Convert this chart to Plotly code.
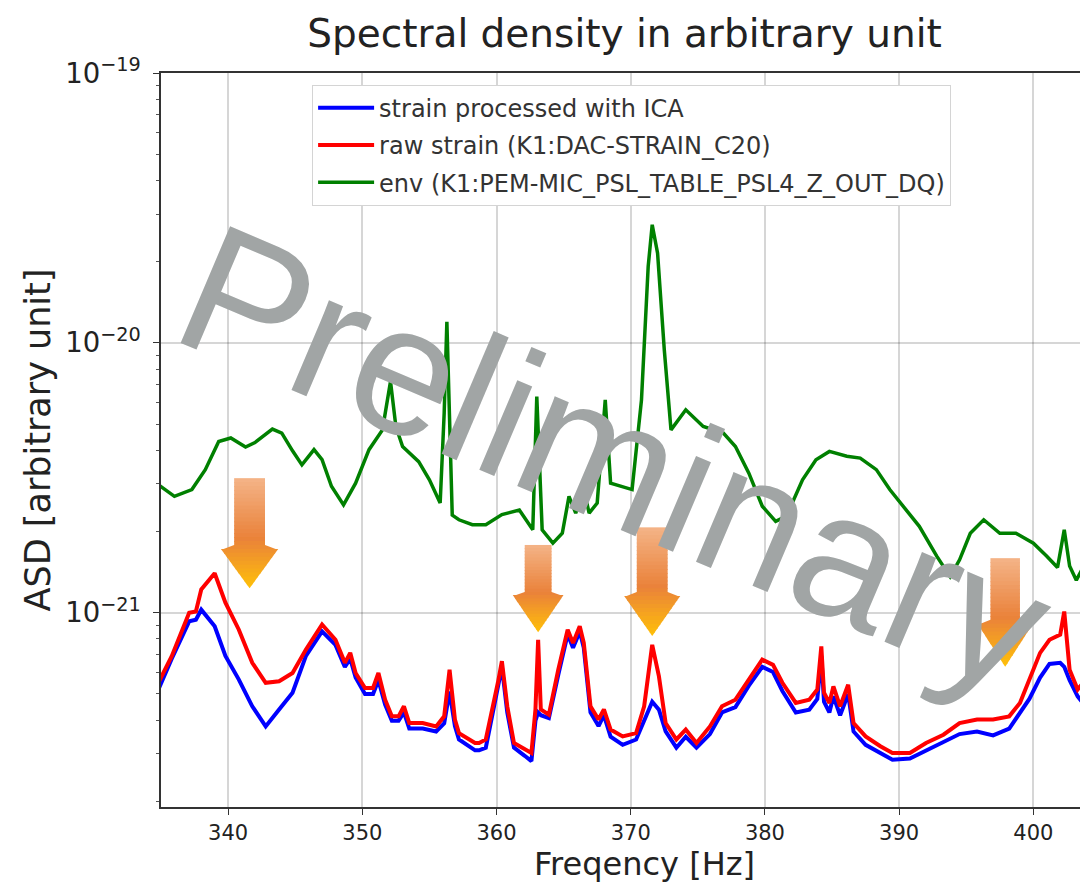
import plotly.graph_objects as go

UNIT = 1e-21  # values below are in units of 1e-21

# ---- environment (microphone) channel ----
freq_env = [334.8, 336.0, 337.3, 338.3, 339.3, 340.2, 341.3, 342.0, 343.3, 344.0,
            344.8, 345.5, 346.4, 347.0, 347.7, 348.6, 349.5, 350.5, 351.5, 352.1,
            352.5, 353.0, 354.2, 355.0, 355.8, 356.1, 356.3, 356.5, 356.7, 357.2,
            358.2, 359.2, 360.4, 361.7, 362.7, 363.0, 363.4, 364.2, 364.9, 365.4,
            365.9, 366.5, 366.9, 367.5, 368.1, 368.5, 369.4, 370.1, 370.8, 371.3,
            371.6, 372.0, 372.5, 373.0, 374.1, 375.4, 376.9, 377.8, 378.8, 379.8,
            380.8, 381.6, 382.8, 383.8, 384.8, 386.1, 387.1, 388.3, 389.3, 390.3,
            391.5, 392.8, 393.8, 394.5, 395.3, 396.3, 397.5, 398.7, 400.0, 401.0,
            401.8, 402.3, 402.7, 403.2, 404.0]
asd_env = [2.98, 2.70, 2.86, 3.39, 4.31, 4.44, 4.11, 4.27, 4.79, 4.63,
           3.98, 3.53, 4.02, 3.69, 2.94, 2.51, 3.02, 4.02, 4.76, 7.19,
           4.90, 4.13, 3.63, 3.11, 2.55, 5.5, 11.97, 5.5, 2.3, 2.21,
           2.12, 2.12, 2.31, 2.40, 2.03, 6.32, 2.03, 1.81, 1.97, 2.70,
           2.34, 2.86, 2.34, 2.55, 6.15, 3.02, 2.94, 2.86, 6.15, 19.2,
           27.4, 21.5, 9.42, 4.76, 5.65, 4.90, 4.63, 4.13, 3.29, 2.48,
           2.18, 2.28, 3.11, 3.69, 3.96, 3.80, 3.74, 3.39, 2.86, 2.48,
           2.09, 1.62, 1.36, 1.57, 1.97, 2.21, 1.97, 1.97, 1.81, 1.62,
           1.47, 2.03, 1.49, 1.32, 1.57]

# ---- strain channels ----
freq_strain = [334.8, 335.8, 337.1, 337.6, 338.0, 339.0, 339.8, 340.8, 341.8, 342.8,
               343.8, 344.8, 345.8, 347.0, 348.0, 348.7, 349.1, 349.5, 350.2, 350.8,
               351.2, 351.7, 352.2, 352.7, 353.1, 353.5, 354.5, 355.5, 356.1, 356.5,
               356.9, 357.2, 358.4, 358.7, 359.2, 359.7, 360.1, 360.4, 360.8, 361.3,
               362.1, 362.6, 362.9, 363.1, 363.3, 363.9, 364.6, 365.3, 365.7, 366.2,
               366.5, 367.0, 367.6, 368.0, 368.5, 369.4, 370.4, 371.0, 371.6, 372.1,
               372.6, 373.4, 374.1, 374.9, 375.9, 376.8, 377.8, 378.8, 379.8, 380.6,
               381.3, 382.3, 383.3, 383.9, 384.2, 384.4, 384.8, 385.1, 385.6, 386.2,
               386.6, 387.5, 388.6, 389.5, 390.8, 392.0, 393.3, 394.5, 395.8, 397.0,
               398.2, 399.0, 399.7, 400.5, 401.2, 402.0, 402.3, 402.7, 403.3, 403.9]
asd_raw = [0.55, 0.69, 1.00, 1.01, 1.22, 1.40, 1.09, 0.865, 0.652, 0.55,
           0.557, 0.598, 0.73, 0.904, 0.794, 0.652, 0.71, 0.598, 0.526, 0.526,
           0.598, 0.476, 0.413, 0.413, 0.45, 0.39, 0.39, 0.379, 0.413, 0.615,
           0.402, 0.358, 0.329, 0.329, 0.339, 0.438, 0.55, 0.661, 0.45, 0.329,
           0.311, 0.302, 0.438, 0.794, 0.438, 0.419, 0.615, 0.865, 0.773, 0.891,
           0.773, 0.45, 0.402, 0.438, 0.369, 0.348, 0.358, 0.45, 0.76, 0.581,
           0.39, 0.339, 0.369, 0.329, 0.379, 0.45, 0.476, 0.565, 0.67, 0.641,
           0.55, 0.463, 0.476, 0.519, 0.75, 0.505, 0.463, 0.533, 0.45, 0.541,
           0.39, 0.348, 0.32, 0.302, 0.302, 0.329, 0.353, 0.39, 0.402, 0.402,
           0.413, 0.463, 0.565, 0.71, 0.794, 0.83, 1.01, 0.615, 0.519, 0.565]
asd_ica = [0.519, 0.676, 0.929, 0.942, 1.026, 0.891, 0.692, 0.565, 0.45, 0.379,
           0.438, 0.505, 0.692, 0.853, 0.76, 0.63, 0.676, 0.575, 0.50, 0.50,
           0.562, 0.457, 0.398, 0.398, 0.427, 0.372, 0.372, 0.363, 0.389, 0.51,
           0.38, 0.339, 0.309, 0.309, 0.316, 0.417, 0.525, 0.63, 0.427, 0.316,
           0.295, 0.282, 0.398, 0.427, 0.417, 0.407, 0.589, 0.832, 0.741, 0.851,
           0.741, 0.427, 0.38, 0.417, 0.347, 0.324, 0.339, 0.398, 0.468, 0.437,
           0.363, 0.316, 0.347, 0.316, 0.355, 0.427, 0.447, 0.537, 0.63, 0.603,
           0.513, 0.427, 0.437, 0.479, 0.692, 0.468, 0.427, 0.49, 0.417, 0.50,
           0.363, 0.324, 0.302, 0.285, 0.288, 0.309, 0.331, 0.355, 0.363, 0.351,
           0.372, 0.427, 0.479, 0.575, 0.646, 0.652, 0.63, 0.562, 0.49, 0.45]

series_names = ["strain processed with ICA",
                "raw strain (K1:DAC-STRAIN_C20)",
                "env (K1:PEM-MIC_PSL_TABLE_PSL4_Z_OUT_DQ)"]

x_ticks = [340, 350, 360, 370, 380, 390, 400]

# ---- decoration: gradient arrows (x centre in Hz, others in paper units / Hz) ----
arrows = [
    dict(x=341.6, shaft_hw=1.15, head_hw=2.35, top=0.448, neck=0.357, tip=0.298),
    dict(x=363.1, shaft_hw=1.00, head_hw=2.05, top=0.357, neck=0.293, tip=0.238),
    dict(x=371.6, shaft_hw=1.15, head_hw=2.30, top=0.381, neck=0.293, tip=0.233),
    dict(x=397.9, shaft_hw=1.10, head_hw=2.25, top=0.339, neck=0.255, tip=0.191),
]
grad_stops = [(0.0, (244, 180, 136)), (0.55, (234, 130, 58)), (1.0, (255, 192, 8))]


def grad_color(t):
    for (t0, c0), (t1, c1) in zip(grad_stops[:-1], grad_stops[1:]):
        if t <= t1:
            f = (t - t0) / (t1 - t0) if t1 > t0 else 0
            return "rgb(%d,%d,%d)" % tuple(round(a + (b - a) * f) for a, b in zip(c0, c1))
    return "rgb(%d,%d,%d)" % grad_stops[-1][1]


def arrow_shapes(a, n=28):
    shapes = []
    L = a["top"] - a["tip"]
    eps = 0.0012

    def hw(y):
        if y >= a["neck"]:
            return a["shaft_hw"]
        return a["head_hw"] * (y - a["tip"]) / (a["neck"] - a["tip"])

    ns = max(2, round(n * (a["top"] - a["neck"]) / L))
    for i in range(ns):
        y0 = a["top"] - (a["top"] - a["neck"]) * i / ns
        y1 = a["top"] - (a["top"] - a["neck"]) * (i + 1) / ns - eps
        t = (a["top"] - (y0 + y1) / 2) / L
        x0, x1 = a["x"] - a["shaft_hw"], a["x"] + a["shaft_hw"]
        path = f"M {x0},{y0} L {x1},{y0} L {x1},{y1} L {x0},{y1} Z"
        shapes.append(dict(type="path", path=path, xref="x", yref="paper",
                           fillcolor=grad_color(t), line=dict(width=0), layer="above"))
    nh = max(2, n - ns)
    for i in range(nh):
        y0 = a["neck"] - (a["neck"] - a["tip"]) * i / nh
        y1 = a["neck"] - (a["neck"] - a["tip"]) * (i + 1) / nh
        y1e = max(a["tip"], y1 - eps)
        w0, w1 = hw(y0), hw(y1e)
        t = (a["top"] - (y0 + y1) / 2) / L
        path = (f"M {a['x'] - w0},{y0} L {a['x'] + w0},{y0} "
                f"L {a['x'] + w1},{y1e} L {a['x'] - w1},{y1e} Z")
        shapes.append(dict(type="path", path=path, xref="x", yref="paper",
                           fillcolor=grad_color(t), line=dict(width=0), layer="above"))
    return shapes


fig = go.Figure()
fig.add_trace(go.Scatter(x=freq_strain, y=[v * UNIT for v in asd_ica], mode="lines",
                         name=series_names[0], line=dict(color="#0000ff", width=4),
                         legendgroup="a"))
fig.add_trace(go.Scatter(x=freq_strain, y=[v * UNIT for v in asd_raw], mode="lines",
                         name=series_names[1], line=dict(color="#ff0000", width=4),
                         legendgroup="b"))
fig.add_trace(go.Scatter(x=freq_env, y=[v * UNIT for v in asd_env], mode="lines",
                         name=series_names[2], line=dict(color="#008000", width=3.5),
                         legendgroup="c"))

shapes = []
for a in arrows:
    shapes += arrow_shapes(a)

font_main = "DejaVu Sans, Arial, sans-serif"

# page body adds an 8px offset, so the figure is 8px smaller than the window
fig.update_layout(
    width=1080, height=877,
    margin=dict(l=153, r=0, t=65, b=78, autoexpand=False),
    paper_bgcolor="white", plot_bgcolor="white",
    font=dict(family=font_main, color="#222222"),
    title=dict(text="Spectral density in arbitrary unit", x=0.5, xref="paper",
               xanchor="center", y=0.971, yref="container", yanchor="middle",
               font=dict(size=39, color="#222222"), automargin=False),
    shapes=shapes,
    showlegend=True,
    legend=dict(x=0.163, y=0.984, xanchor="left", yanchor="top",
                bgcolor="white", bordercolor="#d4d4d4", borderwidth=1,
                font=dict(size=24, color="#333333"), tracegroupgap=3,
                itemwidth=56),
    annotations=[
        dict(text="Preliminary", xref="paper", yref="paper",
             x=0.49, y=0.475, xanchor="center", yanchor="middle",
             showarrow=False, textangle=23,
             font=dict(family="Liberation Sans, Arial, sans-serif",
                       size=184, color="#a1a5a5")),
        dict(text="Freqency [Hz]", xref="paper", yref="paper",
             x=0.522, y=-0.105, xanchor="center", yanchor="bottom",
             showarrow=False, borderpad=0,
             font=dict(size=32, color="#222222")),
    ],
)

fig.update_xaxes(
    range=[335, 404.07], tickvals=x_ticks, automargin=False,
    showgrid=True, gridcolor="rgba(0,0,0,0.16)", gridwidth=1.5,
    showline=True, linecolor="#333333", linewidth=1.5, mirror=True,
    ticks="outside", ticklen=6, tickcolor="#333333", zeroline=False,
    tickfont=dict(size=21, color="#222222"),
)
fig.update_yaxes(
    type="log", range=[-21.72, -18.9999], dtick=1, exponentformat="power",
    automargin=False, ticklabelstandoff=8,
    showgrid=True, gridcolor="rgba(0,0,0,0.16)", gridwidth=1.5,
    showline=True, linecolor="#333333", linewidth=1.5,
    ticks="outside", ticklen=6, tickcolor="#333333", zeroline=False,
    minor=dict(ticks="outside", ticklen=3, tickcolor="#555555", dtick="D1", showgrid=False),
    tickfont=dict(size=22, color="#222222"),
    title=dict(text="ASD [arbitrary unit]", font=dict(size=35, color="#222222"), standoff=4),
)

fig.write_html("out.html")
